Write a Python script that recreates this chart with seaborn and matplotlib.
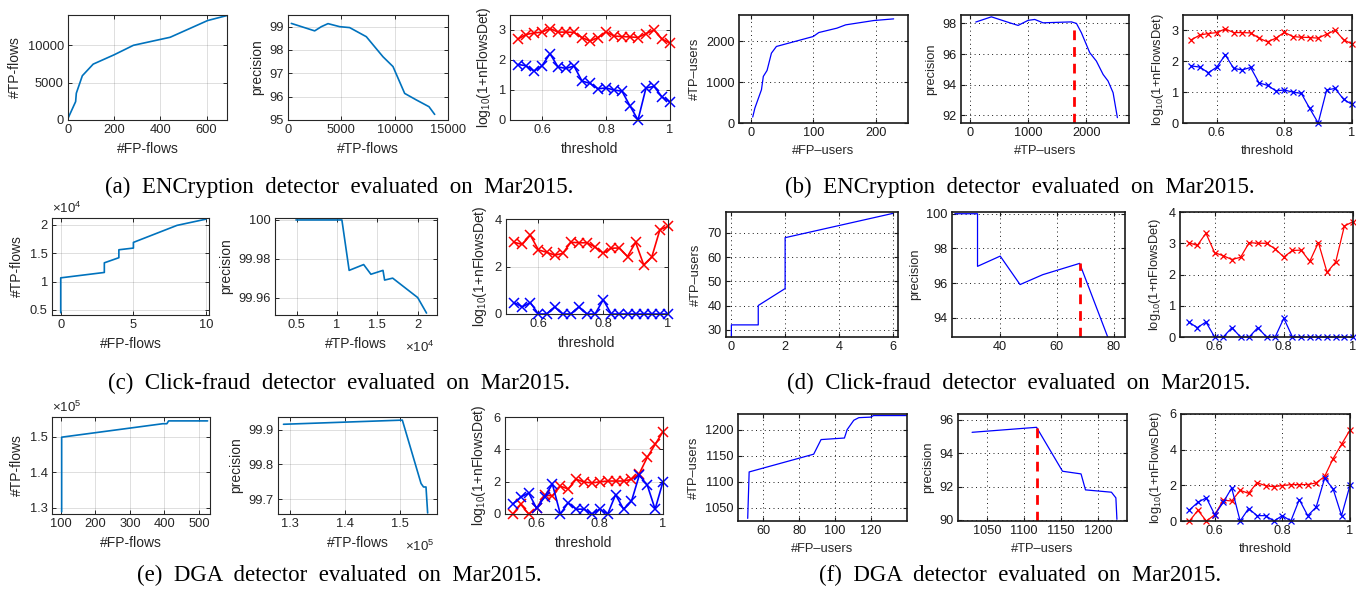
import matplotlib
matplotlib.use("Agg")
import matplotlib.pyplot as plt
import seaborn as sns

# ---------------------------------------------------------------------------
# Data
# ---------------------------------------------------------------------------

# (a) ENCryption, flows
enc_fp_flows = [0, 33, 36, 62, 109, 200, 283, 442, 604, 688]
enc_tp_flows = [220, 2450, 3570, 5900, 7450, 8700, 9960, 11030, 13260, 13930]
enc_prec_tp_flows = [312, 2500, 3125, 3750, 4843, 5781, 7343, 8906, 9843, 10937, 12031, 13218, 13750]
enc_prec_flows = [99.14, 98.82, 99.0, 99.13, 99.0, 98.96, 98.57, 97.71, 97.29, 96.14, 95.86, 95.57, 95.24]

# threshold sweep shared by all right-hand panels
thresholds = [0.525, 0.55, 0.575, 0.6, 0.625, 0.65, 0.675, 0.7, 0.725, 0.75,
              0.775, 0.8, 0.825, 0.85, 0.875, 0.9, 0.925, 0.95, 0.975, 1.0]
enc_det_red = [2.7, 2.85, 2.9, 2.93, 3.05, 2.93, 2.93, 2.92, 2.75, 2.63,
               2.75, 2.94, 2.8, 2.78, 2.77, 2.75, 2.88, 3.0, 2.7, 2.56]
enc_det_blue = [1.85, 1.81, 1.63, 1.81, 2.21, 1.77, 1.72, 1.8, 1.3, 1.22,
                1.04, 1.07, 1.0, 0.96, 0.47, 0.0, 1.07, 1.12, 0.77, 0.6]

# (b) ENCryption, users
enc_fp_users = [3, 6.5, 17, 20, 26, 33, 41, 100, 109, 138, 152, 197, 229]
enc_tp_users = [147, 367, 816, 1143, 1290, 1714, 1878, 2122, 2220, 2327, 2408, 2514, 2555]
enc_prec_tp_users = [103, 371, 686, 829, 1000, 1114, 1257, 1743, 1829, 1914, 2057, 2171, 2286, 2371, 2457, 2531]
enc_prec_users = [98.09, 98.43, 98.04, 97.87, 98.2, 98.26, 98.04, 98.1, 98.0, 97.39,
                  96.09, 95.54, 94.67, 94.24, 93.48, 91.85]
enc_users_cut = 1783

# (c) Click-fraud, flows
cf_fp_flows = [0, 0, 3, 3, 4, 4, 5, 5, 8, 10]
cf_tp_flows = [4500, 10650, 11600, 13300, 14200, 15600, 15900, 16900, 19900, 21000]
cf_prec_tp_flows = [4900, 10600, 11500, 13300, 14200, 15700, 15900, 16900, 20000, 21100]
cf_prec_flows = [100.0, 100.0, 99.974, 99.977, 99.972, 99.974, 99.969, 99.970, 99.960, 99.952]
cf_det_red = [3.02, 2.93, 3.32, 2.7, 2.6, 2.48, 2.55, 3.02, 3.0, 3.0,
              2.82, 2.56, 2.77, 2.78, 2.42, 3.02, 2.07, 2.4, 3.55, 3.69]
cf_det_blue = [0.48, 0.3, 0.48, 0.0, 0.0, 0.3, 0.0, 0.0, 0.3, 0.0,
               0.0, 0.6, 0.0, 0.0, 0.0, 0.0, 0.0, 0.0, 0.0, 0.0]

# (d) Click-fraud, users
cf_fp_users = [0, 0, 1, 1, 2, 2, 6]
cf_tp_users = [27, 32, 32, 40, 47, 68, 78]
cf_prec_tp_users = [24, 32, 32, 40, 47, 55, 68, 78]
cf_prec_users = [100.0, 100.0, 96.97, 97.56, 95.92, 96.49, 97.14, 92.86]
cf_users_cut = 68

# (e) DGA, flows
dga_fp_flows = [102, 102, 395, 407, 412, 525]
dga_tp_flows = [128800, 149900, 153700, 153700, 154500, 154500]
dga_prec_tp_flows = [128800, 150400, 153800, 154250, 154700, 155000]
dga_prec_flows = [99.916, 99.928, 99.745, 99.735, 99.735, 99.66]
dga_det_red = [0.0, 0.6, 0.0, 0.35, 1.17, 1.12, 1.72, 1.55, 2.15, 1.98,
               1.92, 1.99, 2.04, 2.04, 2.04, 2.14, 2.5, 3.5, 4.3, 5.1]
dga_det_blue = [0.62, 1.05, 1.3, 0.35, 1.05, 1.85, 0.0, 0.7, 0.3, 0.3,
                0.0, 0.3, 0.0, 1.2, 0.3, 0.78, 2.4, 1.8, 0.3, 2.0]

# (f) DGA, users
dga_fp_users = [51.4, 52.2, 88.1, 90.3, 92.2, 105.2, 106.7, 110.4, 113.2, 119.7, 121.4, 140]
dga_tp_users = [1030, 1119, 1153, 1168, 1181, 1184, 1200, 1218, 1223, 1224, 1227, 1227]
dga_prec_tp_users = [1030, 1117, 1152, 1177, 1183, 1218, 1224, 1225.4]
dga_prec_users = [95.26, 95.56, 92.92, 92.76, 91.8, 91.66, 91.32, 90.03]
dga_users_cut = 1117

captions = [
    "(a) ENCryption detector evaluated on Mar2015.",
    "(b) ENCryption detector evaluated on Mar2015.",
    "(c) Click-fraud detector evaluated on Mar2015.",
    "(d) Click-fraud detector evaluated on Mar2015.",
    "(e) DGA detector evaluated on Mar2015.",
    "(f) DGA detector evaluated on Mar2015.",
]

# ---------------------------------------------------------------------------
# Styling helpers
# ---------------------------------------------------------------------------

W, H = 1356, 593
NEW_BLUE = "#0072BD"
DARK = "#262626"

sns.set_theme(style="ticks")
plt.rcParams["font.family"] = ["Liberation Sans", "DejaVu Sans"]
plt.rcParams["mathtext.default"] = "regular"

fig = plt.figure(figsize=(W / 100, H / 100), dpi=100)


def px_axes(left, top, right, bottom):
    return fig.add_axes([left / W, 1 - bottom / H, (right - left) / W, (bottom - top) / H])


def style_new(ax):
    ax.grid(True, color=DARK, alpha=0.15, lw=0.7)
    for s in ax.spines.values():
        s.set_color(DARK)
        s.set_linewidth(0.8)
    ax.tick_params(direction="in", top=True, right=True, length=3, width=0.7,
                   colors=DARK, labelsize=9.3, pad=3)
    ax.xaxis.label.set_color(DARK)
    ax.yaxis.label.set_color(DARK)
    ax.xaxis.label.set_size(10)
    ax.yaxis.label.set_size(10)


def style_old(ax):
    ax.grid(True, color="k", ls=(0, (1, 3.5)), lw=0.7)
    for s in ax.spines.values():
        s.set_color("k")
        s.set_linewidth(1.2)
    ax.tick_params(direction="in", top=True, right=True, length=3, width=0.8,
                   colors="k", labelsize=9.2, pad=3)
    ax.xaxis.label.set_size(9.3)
    ax.yaxis.label.set_size(9.3)


def line(ax, x, y, color, lw):
    sns.lineplot(x=x, y=y, ax=ax, color=color, lw=lw, sort=False, estimator=None)


def thr_plot(ax, red, blue, ms, lw, mew):
    for vals, c in [(red, "red"), (blue, "blue")]:
        sns.lineplot(x=thresholds, y=vals, ax=ax, color=c, lw=lw, marker="x",
                     markersize=ms, markeredgecolor=c, markeredgewidth=mew,
                     sort=False, estimator=None, clip_on=False)
    ax.set_xlim(0.5, 1.0)
    ax.set_xticks([0.6, 0.8, 1.0])
    ax.set_xticklabels(["0.6", "0.8", "1"])
    ax.set_ylabel("log$_{10}$(1+nFlowsDet)")


def cut_line(ax, x, y_top):
    y0 = ax.get_ylim()[0]
    ax.plot([x, x], [y0, y_top], color="red", ls=(0, (3.5, 2.5)), lw=2)


# ---------------------------------------------------------------------------
# Row 1: (a) and (b)
# ---------------------------------------------------------------------------

ax = px_axes(68, 15, 227, 120)
line(ax, enc_fp_flows, enc_tp_flows, NEW_BLUE, 1.2)
ax.set_xlim(0, 688); ax.set_ylim(0, 14000)
ax.set_xticks([0, 200, 400, 600]); ax.set_yticks([0, 5000, 10000])
ax.set_xlabel("#FP-flows"); ax.set_ylabel("#TP-flows")
style_new(ax)

ax = px_axes(288, 15, 448, 120)
line(ax, enc_prec_tp_flows, enc_prec_flows, NEW_BLUE, 1.2)
ax.set_xlim(0, 15000); ax.set_ylim(95, 99.5)
ax.set_xticks([0, 5000, 10000, 15000]); ax.set_yticks([95, 96, 97, 98, 99])
ax.set_xlabel("#TP-flows"); ax.set_ylabel("precision")
style_new(ax)

ax = px_axes(510, 15, 670, 120)
thr_plot(ax, enc_det_red, enc_det_blue, 7, 1.2, 1.1)
ax.set_ylim(0, 3.5); ax.set_yticks([0, 1, 2, 3])
ax.set_xlabel("threshold")
style_new(ax)

ax = px_axes(739, 15, 908, 123)
line(ax, enc_fp_users, enc_tp_users, "blue", 0.9)
ax.set_xlim(-19, 252); ax.set_ylim(0, 2650)
ax.set_xticks([0, 100, 200]); ax.set_yticks([0, 1000, 2000])
ax.set_xlabel("#FP\u2013users"); ax.set_ylabel("#TP\u2013users")
style_old(ax)

ax = px_axes(961, 15, 1129, 123)
line(ax, enc_prec_tp_users, enc_prec_users, "blue", 0.9)
ax.set_xlim(-150, 2730); ax.set_ylim(91.5, 98.55)
cut_line(ax, enc_users_cut, 98.05)
ax.set_xticks([0, 1000, 2000]); ax.set_yticks([92, 94, 96, 98])
ax.set_xlabel("#TP\u2013users"); ax.set_ylabel("precision")
style_old(ax)

ax = px_axes(1183, 15, 1352, 123)
thr_plot(ax, enc_det_red, enc_det_blue, 5, 0.9, 0.9)
ax.set_ylim(0, 3.5); ax.set_yticks([0, 1, 2, 3])
ax.set_xlabel("threshold")
style_old(ax)

# ---------------------------------------------------------------------------
# Row 2: (c) and (d)
# ---------------------------------------------------------------------------

ax = px_axes(52, 218, 209, 315)
line(ax, cf_fp_flows, [v / 1e4 for v in cf_tp_flows], NEW_BLUE, 1.2)
ax.set_xlim(-0.6, 10.2); ax.set_ylim(0.41, 2.12)
ax.set_xticks([0, 5, 10]); ax.set_yticks([0.5, 1, 1.5, 2])
ax.set_yticklabels(["0.5", "1", "1.5", "2"])
ax.set_xlabel("#FP-flows"); ax.set_ylabel("#TP-flows")
ax.text(0.0, 1.02, "\u00d710$^{4}$", transform=ax.transAxes, ha="left", va="bottom",
        fontsize=9.5, color=DARK)
style_new(ax)

ax = px_axes(275, 218, 437, 315)
line(ax, [v / 1e4 for v in cf_prec_tp_flows], cf_prec_flows, NEW_BLUE, 1.2)
ax.set_xlim(0.23, 2.24); ax.set_ylim(99.951, 100.001)
ax.set_xticks([0.5, 1, 1.5, 2]); ax.set_xticklabels(["0.5", "1", "1.5", "2"])
ax.set_yticks([99.96, 99.98, 100]); ax.set_yticklabels(["99.96", "99.98", "100"])
ax.set_xlabel("#TP-flows"); ax.set_ylabel("precision")
ax.text(0.8, -0.33, "\u00d710$^{4}$", transform=ax.transAxes, ha="left", va="center",
        fontsize=9.5, color=DARK)
style_new(ax)

ax = px_axes(506, 219, 668, 314)
thr_plot(ax, cf_det_red, cf_det_blue, 7, 1.2, 1.1)
ax.set_ylim(0, 4); ax.set_yticks([0, 2, 4])
ax.set_xlabel("threshold")
style_new(ax)

ax = px_axes(726, 212, 898, 337)
line(ax, cf_fp_users, cf_tp_users, "blue", 0.9)
ax.set_xlim(-0.2, 6.2); ax.set_ylim(27, 78.6)
ax.set_xticks([0, 2, 4, 6]); ax.set_yticks([30, 40, 50, 60, 70])
ax.set_ylabel("#TP\u2013users")
style_old(ax)

ax = px_axes(952, 212, 1125, 337)
line(ax, cf_prec_tp_users, cf_prec_users, "blue", 0.9)
ax.set_xlim(23, 84); ax.set_ylim(92.9, 100.1)
cut_line(ax, cf_users_cut, 97.14)
ax.set_xticks([40, 60, 80]); ax.set_yticks([94, 96, 98, 100])
ax.set_ylabel("precision")
style_old(ax)

ax = px_axes(1180, 212, 1353, 337)
thr_plot(ax, cf_det_red, cf_det_blue, 5, 0.9, 0.9)
ax.set_ylim(0, 4); ax.set_yticks([0, 1, 2, 3, 4])
style_old(ax)

# ---------------------------------------------------------------------------
# Row 3: (e) and (f)
# ---------------------------------------------------------------------------

ax = px_axes(52, 417, 210, 514)
line(ax, dga_fp_flows, [v / 1e5 for v in dga_tp_flows], NEW_BLUE, 1.2)
ax.set_xlim(74, 532); ax.set_ylim(1.282, 1.556)
ax.set_xticks([100, 200, 300, 400, 500]); ax.set_yticks([1.3, 1.4, 1.5])
ax.set_xlabel("#FP-flows"); ax.set_ylabel("#TP-flows")
ax.text(0.0, 1.02, "\u00d710$^{5}$", transform=ax.transAxes, ha="left", va="bottom",
        fontsize=9.5, color=DARK)
style_new(ax)

ax = px_axes(278, 417, 437, 514)
line(ax, [v / 1e5 for v in dga_prec_tp_flows], dga_prec_flows, NEW_BLUE, 1.2)
ax.set_xlim(1.278, 1.567); ax.set_ylim(99.657, 99.937)
ax.set_xticks([1.3, 1.4, 1.5]); ax.set_yticks([99.7, 99.8, 99.9])
ax.set_xlabel("#TP-flows"); ax.set_ylabel("precision")
ax.text(0.8, -0.33, "\u00d710$^{5}$", transform=ax.transAxes, ha="left", va="center",
        fontsize=9.5, color=DARK)
style_new(ax)

ax = px_axes(505, 417, 663, 514)
thr_plot(ax, dga_det_red, dga_det_blue, 7, 1.2, 1.1)
ax.set_ylim(0, 6); ax.set_yticks([0, 2, 4, 6])
ax.set_xlabel("threshold")
style_new(ax)

ax = px_axes(738, 414, 907, 521)
line(ax, dga_fp_users, dga_tp_users, "blue", 0.9)
ax.set_xlim(46, 140); ax.set_ylim(1025, 1230)
ax.set_xticks([60, 80, 100, 120]); ax.set_yticks([1050, 1100, 1150, 1200])
ax.set_xlabel("#FP\u2013users"); ax.set_ylabel("#TP\u2013users")
style_old(ax)

ax = px_axes(958, 414, 1127, 521)
line(ax, dga_prec_tp_users, dga_prec_users, "blue", 0.9)
ax.set_xlim(1011, 1239); ax.set_ylim(89.93, 96.36)
cut_line(ax, dga_users_cut, 95.56)
ax.set_xticks([1050, 1100, 1150, 1200]); ax.set_yticks([90, 92, 94, 96])
ax.set_xlabel("#TP\u2013users"); ax.set_ylabel("precision")
style_old(ax)

ax = px_axes(1181, 414, 1350, 521)
thr_plot(ax, dga_det_red, dga_det_blue, 5, 0.9, 0.9)
ax.set_ylim(0, 6); ax.set_yticks([0, 2, 4, 6])
ax.set_xlabel("threshold")
style_old(ax)

# ---------------------------------------------------------------------------
# Captions (LaTeX-style justified spacing -> wider gaps between words)
# ---------------------------------------------------------------------------

caption_pos = [(339, 187), (1020, 187), (339, 383), (1019, 383), (339, 575), (1020, 575)]
for text, (cx, cy) in zip(captions, caption_pos):
    fig.text(cx / W, 1 - cy / H, text.replace(" ", "  "), ha="center", va="center",
             fontsize=16.5, family=["Liberation Serif", "DejaVu Serif"], color="black")

fig.savefig("out.png", dpi=100)
